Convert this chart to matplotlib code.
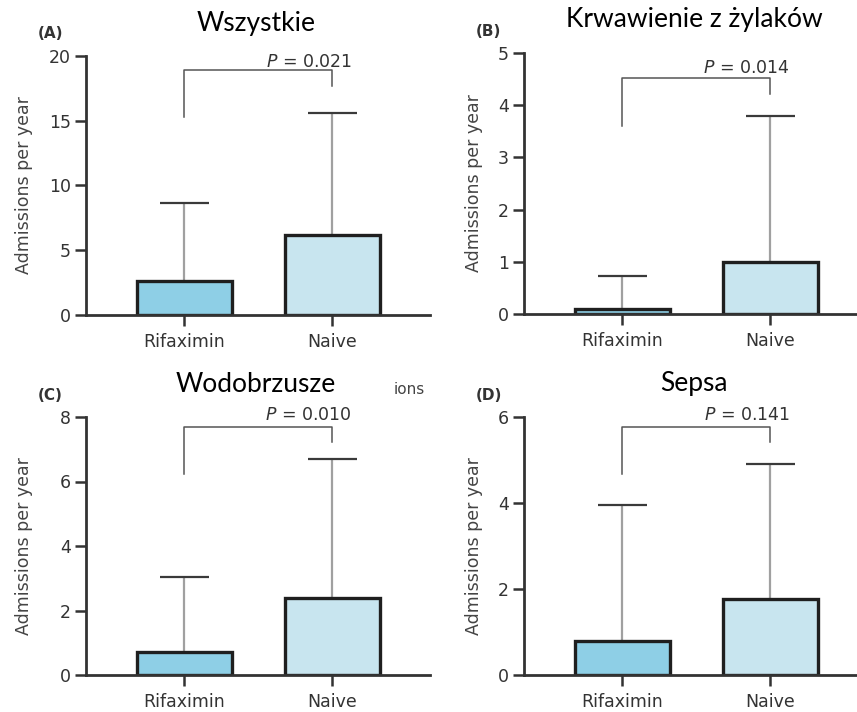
import numpy as np
import matplotlib.pyplot as plt

plt.rcParams['font.family'] = ['DejaVu Sans']
plt.rcParams['mathtext.fontset'] = 'dejavusans'

groups = ['Rifaximin', 'Naive']
panel_tags = ['(A)', '(B)', '(C)', '(D)']
titles = ['Wszystkie', 'Krwawienie z żylaków', 'Wodobrzusze', 'Sepsa']

# mean admissions per year and upper error (absolute top of whisker)
means = [[2.65, 6.18], [0.10, 1.00], [0.70, 2.40], [0.79, 1.76]]
err_tops = [[8.62, 15.57], [0.73, 3.79], [3.04, 6.69], [3.96, 4.91]]
p_values = ['0.021', '0.014', '0.010', '0.141']
y_max = [20, 5, 8, 6]
y_ticks = [[0, 5, 10, 15, 20], [0, 1, 2, 3, 4, 5], [0, 2, 4, 6, 8], [0, 2, 4, 6]]
# bracket: left leg bottom, right leg bottom, horizontal level, label y
brackets = [[15.26, 17.68, 18.92, 19.5], [3.61, 4.22, 4.52, 4.71],
            [6.22, 7.22, 7.69, 8.05], [4.67, 5.42, 5.77, 6.04]]

bar_colors = ['#8ecfe6', '#c8e5ef']
W, H = 857, 712

fig = plt.figure(figsize=(W / 100, H / 100), dpi=100)

# axes boxes in pixels: left spine x, top y, bottom y, y-label offset from spine
boxes = [(86, 56, 315, 53), (524, 53, 314, 41), (86, 417, 675, 53), (524, 417, 675, 41)]
x_lo, x_hi = -0.665, 1.66
px_per_unit = 148

for i, (lx, ty, by, lab_off) in enumerate(boxes):
    width_px = (x_hi - x_lo) * px_per_unit
    ax = fig.add_axes([lx / W, 1 - by / H, width_px / W, (by - ty) / H])
    x = np.arange(len(groups))
    m = np.array(means[i])
    up = np.array(err_tops[i]) - m

    ax.errorbar(x, m, yerr=[np.zeros_like(up), up], fmt='none',
                ecolor='#a0a0a0', elinewidth=1.6, capsize=0, zorder=1)
    ax.hlines(err_tops[i], x - 0.165, x + 0.165, color='#3a3a3a', lw=1.6, zorder=1)
    ax.bar(x, m, width=0.64, color=bar_colors, edgecolor='#1f1f1f',
           linewidth=2.4, zorder=2)

    ll, rl, top, ty_txt = brackets[i]
    ax.plot([0, 0, 1, 1], [ll, top, top, rl], color='#555555', lw=1.1,
            clip_on=False, zorder=3)
    ax.text(0.84, ty_txt, r'$\mathit{P}$ = ' + p_values[i], ha='center', va='center',
            fontsize=12.5, color='#333333')

    ax.set_xlim(x_lo, x_hi)
    ax.set_ylim(0, y_max[i])
    ax.set_yticks(y_ticks[i])
    ax.set_xticks(x)
    ax.set_xticklabels(groups)
    ax.set_ylabel('Admissions per year', fontsize=12.5, color='#444444')
    ax.yaxis.set_label_coords(-lab_off / width_px, 0.5)
    ax.tick_params(axis='both', labelsize=12.5, colors='#333333', length=8,
                   width=1.8, pad=3)
    ax.tick_params(axis='x', pad=5)
    for s in ['top', 'right']:
        ax.spines[s].set_visible(False)
    for s in ['left', 'bottom']:
        ax.spines[s].set_linewidth(2.0)
        ax.spines[s].set_color('#333333')
    ax.patch.set_alpha(0)

    # panel letter and Polish title
    ax.text((lx - 48) / W, 1 - (ty - 22) / H, panel_tags[i], transform=fig.transFigure,
            fontsize=11, fontweight='bold', color='#333333', va='center', ha='left')
    cx = lx + width_px / 2 - 2
    ax.text(cx / W, 1 - (ty - 33) / H, titles[i], transform=fig.transFigure,
            fontsize=19, family='Lato', ha='center', va='center', color='black')

# leftover fragment of a caption
fig.text(394 / W, 1 - 390 / H, 'ions', fontsize=11, color='#444444',
         ha='left', va='center')

fig.savefig('out.png', dpi=100)
